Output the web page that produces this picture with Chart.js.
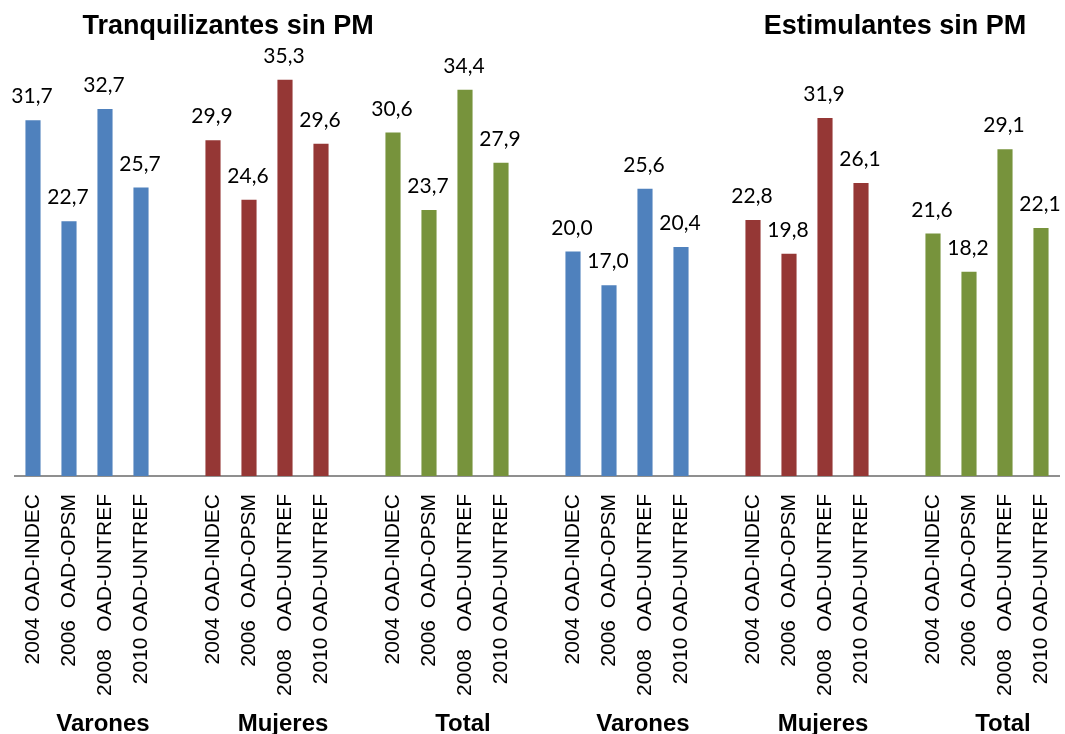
<!DOCTYPE html>
<html>
<head>
<meta charset="utf-8">
<script src="https://cdn.jsdelivr.net/npm/chart.js@4"></script>
<style>
  html, body { margin: 0; padding: 0; background: #ffffff; }
  #wrap { width: 1065px; height: 734px; }
</style>
</head>
<body>
<div id="wrap"><canvas id="c" width="1065" height="734"></canvas></div>
<script>
// ---- data ----
const surveyLabels = ['2004 OAD-INDEC', '2006\u00a0\u00a0OAD-OPSM', '2008\u00a0\u00a0\u00a0OAD-UNTREF', '2010 OAD-UNTREF'];
const groupNames = ['Varones', 'Mujeres', 'Total', 'Varones', 'Mujeres', 'Total'];
const panelTitles = ['Tranquilizantes sin PM', 'Estimulantes sin PM'];

const tranqVarones = [31.7, 22.7, 32.7, 25.7];
const tranqMujeres = [29.9, 24.6, 35.3, 29.6];
const tranqTotal   = [30.6, 23.7, 34.4, 27.9];
const estimVarones = [20.0, 17.0, 25.6, 20.4];
const estimMujeres = [22.8, 19.8, 31.9, 26.1];
const estimTotal   = [21.6, 18.2, 29.1, 22.1];

const groupColors = ['#4F81BD', '#953735', '#77933C', '#4F81BD', '#953735', '#77933C'];
const groups = [tranqVarones, tranqMujeres, tranqTotal, estimVarones, estimMujeres, estimTotal];

// build category slots (with an empty slot between groups)
const labels = [], values = [], colors = [], groupMid = [];
groups.forEach((g, gi) => {
  if (gi > 0) { labels.push(''); values.push(null); colors.push('rgba(0,0,0,0)'); }
  const start = labels.length;
  g.forEach((v, i) => { labels.push(surveyLabels[i]); values.push(v); colors.push(groupColors[gi]); });
  groupMid.push(start + 2);
});

const fmt = v => v.toFixed(1).replace('.', ',');

const overlayPlugin = {
  id: 'overlay',
  afterDatasetsDraw(chart) {
    const ctx = chart.ctx;
    const meta = chart.getDatasetMeta(0);
    ctx.save();
    ctx.fillStyle = '#000';
    ctx.textAlign = 'center';
    ctx.textBaseline = 'alphabetic';
    ctx.font = '21px Lato';
    meta.data.forEach((bar, i) => {
      const v = values[i];
      if (v === null) return;
      ctx.fillText(fmt(v), bar.x - 1, bar.y - 17);
    });
    // group labels
    const xs = chart.scales.x;
    ctx.font = 'bold 24px "Liberation Sans"';
    groupNames.forEach((n, gi) => {
      ctx.fillText(n, xs.getPixelForValue(groupMid[gi]) - 2, 731);
    });
    // panel titles
    ctx.font = 'bold 27px "Liberation Sans"';
    const step = xs.getPixelForValue(1) - xs.getPixelForValue(0);
    ctx.fillText(panelTitles[0], xs.getPixelForValue(5) + 0.42 * step, 34);
    ctx.fillText(panelTitles[1], xs.getPixelForValue(24) - 2, 34);
    ctx.restore();
  }
};

new Chart(document.getElementById('c'), {
  type: 'bar',
  data: {
    labels: labels,
    datasets: [{
      data: values,
      backgroundColor: colors,
      borderWidth: 0,
      categoryPercentage: 1.0,
      barPercentage: 0.42
    }]
  },
  options: {
    responsive: false,
    animation: false,
    devicePixelRatio: 1,
    layout: { padding: { left: 15, right: 6, top: 27, bottom: 0 } },
    plugins: { legend: { display: false }, tooltip: { enabled: false }, title: { display: false } },
    scales: {
      x: {
        grid: { display: false, drawTicks: false },
        border: { display: true, color: '#8f8f8f', width: 2 },
        ticks: {
          autoSkip: false,
          maxRotation: 90,
          minRotation: 90,
          padding: 18,
          color: '#000',
          font: { family: 'Liberation Sans', size: 21 }
        },
        afterFit(scale) {
          scale.height = 734 - 476;
          scale.paddingLeft = 0;
          scale.paddingRight = 0;
        }
      },
      y: {
        display: false,
        min: 0,
        max: 40
      }
    }
  },
  plugins: [overlayPlugin]
});
</script>
</body>
</html>
